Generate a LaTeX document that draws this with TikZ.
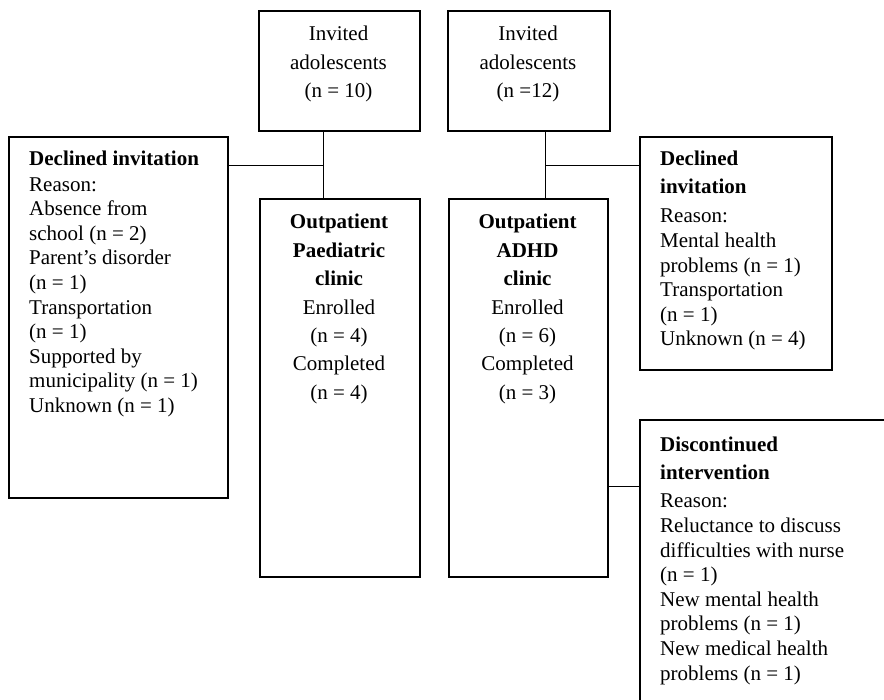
\documentclass[tikz,border=0pt]{standalone}
\usepackage{fontspec}
\setmainfont{Liberation Serif}
\begin{document}
\begin{tikzpicture}[x=1pt,y=-1pt,
  box/.style={draw, line width=1.6pt, inner sep=0pt, anchor=north west},
  conn/.style={line width=1pt},
  ltext/.style={anchor=base west, align=left, inner sep=0pt, font=\fontsize{21}{24.6}\selectfont},
  ctext/.style={anchor=base, align=center, inner sep=0pt, font=\fontsize{21}{28.4}\selectfont}]
\useasboundingbox (0,0) rectangle (884,700);
\clip (0,0) rectangle (884,700);
% boxes
\node[box, minimum width=161pt, minimum height=120pt] (inv1) at (258,10) {};
\node[box, minimum width=162pt, minimum height=120pt] (inv2) at (447,10) {};
\node[box, minimum width=219pt, minimum height=361pt] (decl) at (8,136) {};
\node[box, minimum width=160pt, minimum height=378pt] (paed) at (259,198) {};
\node[box, minimum width=159pt, minimum height=378pt] (adhd) at (448,198) {};
\node[box, minimum width=192pt, minimum height=233pt] (declR) at (639,136) {};
\node[box, minimum width=260pt, minimum height=300pt] (disc) at (639,419) {};
% connectors
\coordinate (j1) at (323,166);
\coordinate (j2) at (545,166);
\coordinate (j3) at (623,487);
\draw[conn] (j1 |- inv1.south) -- (j1 |- paed.north);
\draw[conn] (decl.east |- j1) -- (j1);
\draw[conn] (j2 |- inv2.south) -- (j2 |- adhd.north);
\draw[conn] (j2) -- (j2 -| declR.west);
\draw[conn] (j3 -| adhd.east) -- (j3 -| disc.west);
% texts (anchor = baseline of the last line)
\node[ctext] (t1) at (338.5,97.8) {Invited\\adolescents\\(n = 10)};
\node[ctext] (t2) at (528,97.8) {Invited\\adolescents\\(n =12)};
\node[ctext] (t3) at (339,399.4) {\textbf{Outpatient}\\\textbf{Paediatric}\\\textbf{clinic}\\Enrolled\\(n = 4)\\Completed\\(n = 4)};
\node[ctext] (t4) at (527.5,399.4) {\textbf{Outpatient}\\\textbf{ADHD}\\\textbf{clinic}\\Enrolled\\(n = 6)\\Completed\\(n = 3)};
\node[ltext] (t5) at (29,412.4) {\textbf{Declined invitation}\\[0.4pt]Reason:\\Absence from\\school (n = 2)\\Parent’s disorder\\(n = 1)\\Transportation\\(n = 1)\\Supported by\\municipality (n = 1)\\Unknown (n = 1)};
\node[ltext] (t6) at (660,346) {\textbf{Declined}\\[3.4pt]\textbf{invitation}\\[4.4pt]Reason:\\Mental health\\problems (n = 1)\\Transportation\\(n = 1)\\Unknown (n = 4)};
\node[ltext] (t7) at (660,680) {\textbf{Discontinued}\\[3pt]\textbf{intervention}\\[4pt]Reason:\\Reluctance to discuss\\difficulties with nurse\\(n = 1)\\New mental health\\problems (n = 1)\\New medical health\\problems (n = 1)};
\end{tikzpicture}
\end{document}
